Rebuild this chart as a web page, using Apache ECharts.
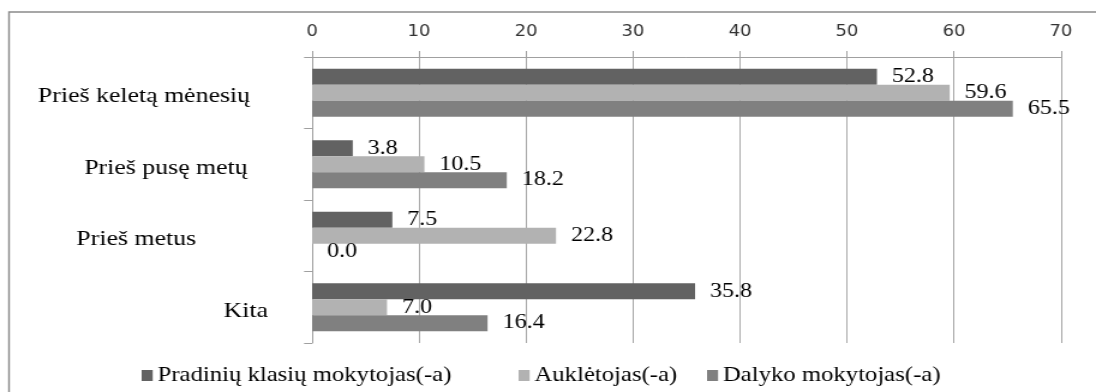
<!DOCTYPE html>
<html>
<head>
<meta charset="utf-8">
<script src="https://cdn.jsdelivr.net/npm/echarts@6/dist/echarts.min.js"></script>
<style>
html,body{margin:0;padding:0;background:#fff;overflow:hidden;}
#wrap{width:1096px;height:392px;overflow:hidden;}
#chart{width:913px;height:392px;transform:scaleX(1.2004);transform-origin:0 0;}
</style>
</head>
<body>
<div id="wrap"><div id="chart"></div></div>
<script>
var categories = ['Prieš keletą mėnesių', 'Prieš pusę metų', 'Prieš metus', 'Kita'];
var seriesNames = ['Pradinių klasių mokytojas(-a)', 'Auklėtojas(-a)', 'Dalyko mokytojas(-a)'];
var pradiniu = [52.8, 3.8, 7.5, 35.8];
var aukletojas = [59.6, 10.5, 22.8, 7.0];
var dalyko = [65.5, 18.2, 0.0, 16.4];
var xTicks = [0, 10, 20, 30, 40, 50, 60, 70];

var colors = ['#626262', '#b2b2b2', '#808080'];
var labelPadRight = [15, 17, 60, 0];
var legendLeft = [118, 432, 589];
var serif = '"Liberation Serif", "Times New Roman", serif';

var chart = echarts.init(document.getElementById('chart'), null, {renderer: 'canvas'});
var values = [pradiniu, aukletojas, dalyko];

var catRich = {};
labelPadRight.forEach(function (pr, i) {
  catRich['c' + i] = {fontFamily: serif, fontSize: 21.5, color: '#000', padding: [8, pr, 0, 0]};
});

var option = {
  animation: false,
  backgroundColor: '#fff',
  graphic: [{
    type: 'rect',
    shape: {x: 7.5, y: 12, width: 1200, height: 500},
    style: {fill: 'none', stroke: '#8a8a8a', lineWidth: 1.4},
    silent: true
  }],
  grid: {left: 260, right: 29.2, top: 57, bottom: 49, containLabel: false},
  legend: seriesNames.map(function (n, i) {
    return {
      data: [n],
      left: legendLeft[i],
      top: 365,
      orient: 'horizontal',
      itemWidth: 9.2,
      itemHeight: 11,
      itemGap: 4,
      padding: 0,
      icon: 'rect',
      textStyle: {fontFamily: serif, fontSize: 20.6, color: '#000', padding: [2, 0, 0, -1]}
    };
  }),
  xAxis: {
    type: 'value',
    position: 'top',
    min: 0,
    max: 70,
    interval: 10,
    axisLine: {show: true, lineStyle: {color: '#a0a0a0', width: 1}},
    axisTick: {show: true, length: 6, lineStyle: {color: '#a0a0a0'}},
    splitLine: {show: true, lineStyle: {color: '#a8a8a8', width: 1}},
    axisLabel: {
      margin: 17,
      fontFamily: '"DejaVu Sans", Verdana, sans-serif',
      fontSize: 15,
      color: '#333',
      formatter: function (v) { return xTicks.indexOf(v) >= 0 ? String(v) : ''; }
    }
  },
  yAxis: {
    type: 'category',
    inverse: true,
    data: categories,
    axisLine: {show: true, lineStyle: {color: '#a0a0a0', width: 1}},
    axisTick: {show: true, length: 6.7, lineStyle: {color: '#a0a0a0'}},
    splitLine: {show: false},
    axisLabel: {
      margin: 36.7,
      fontFamily: serif,
      fontSize: 21.5,
      color: '#000',
      formatter: function (v, i) { return '{c' + i + '|' + v + '}'; },
      rich: catRich
    }
  },
  series: seriesNames.map(function (n, i) {
    return {
      name: n,
      type: 'bar',
      data: values[i],
      barGap: '0%',
      barCategoryGap: '33%',
      itemStyle: {color: colors[i]},
      label: {
        show: true,
        position: 'right',
        distance: 12.5,
        fontFamily: serif,
        fontSize: 20,
        color: '#000',
        formatter: function (p) { return p.value.toFixed(1); }
      }
    };
  })
};
chart.setOption(option);
</script>
</body>
</html>
